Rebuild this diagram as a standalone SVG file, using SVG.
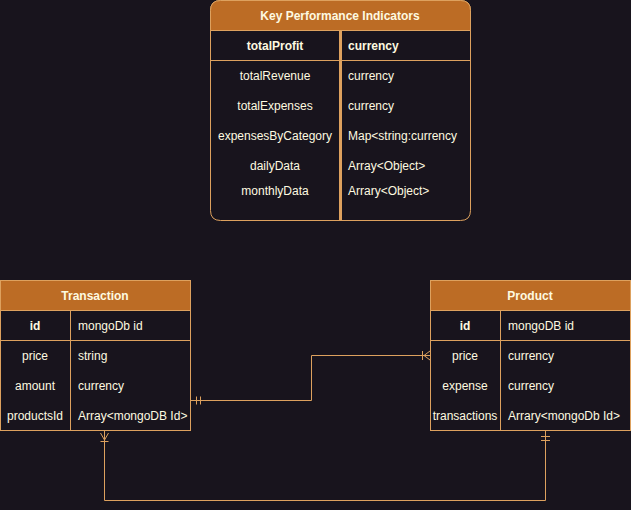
<svg xmlns="http://www.w3.org/2000/svg" width="631" height="510" viewBox="0 0 631 510">
<style>
.bg{fill:#18141d}
.box{fill:#18141d;stroke:#dda15e;stroke-width:1}
.hdr{fill:#bc6c25;stroke:#dda15e;stroke-width:1}
.ln{stroke:#dda15e;stroke-width:1;fill:none}
.t{font-family:"Liberation Sans",Arial,sans-serif;font-size:12px;fill:#fefae0;dominant-baseline:central}
.b{font-weight:bold}
.c{text-anchor:middle}
</style>
<rect class="bg" x="0" y="0" width="631" height="510"/>
<g id="kpi">
<path class="box" d="M220.5,0.5 H460.5 Q470.5,0.5 470.5,10.5 V210.5 Q470.5,220.5 460.5,220.5 H220.5 Q210.5,220.5 210.5,210.5 V10.5 Q210.5,0.5 220.5,0.5 Z"/>
<path class="hdr" d="M210.5,30.5 V10.5 Q210.5,0.5 220.5,0.5 H460.5 Q470.5,0.5 470.5,10.5 V30.5 Z"/>
<line class="ln" x1="210.5" y1="60.5" x2="470.5" y2="60.5"/>
<line x1="340.5" y1="30.5" x2="340.5" y2="220" stroke="#dda15e" stroke-width="3"/>
<text class="t b c" x="340" y="16">Key Performance Indicators</text>
<text class="t b c" x="275" y="46">totalProfit</text>
<text class="t b" x="348" y="46">currency</text>
<text class="t c" x="275" y="76">totalRevenue</text>
<text class="t" x="348" y="76">currency</text>
<text class="t c" x="275" y="106">totalExpenses</text>
<text class="t" x="348" y="106">currency</text>
<text class="t c" x="275" y="136">expensesByCategory</text>
<text class="t" x="348" y="136">Map&lt;string:currency</text>
<text class="t c" x="275" y="166">dailyData</text>
<text class="t" x="348" y="166">Array&lt;Object&gt;</text>
<text class="t c" x="275" y="191">monthlyData</text>
<text class="t" x="348" y="191">Arrary&lt;Object&gt;</text>
</g>
<g id="transaction">
<rect class="box" x="0.5" y="280.5" width="190" height="150"/>
<rect class="hdr" x="0.5" y="280.5" width="190" height="30"/>
<line class="ln" x1="0.5" y1="340.5" x2="190.5" y2="340.5"/>
<line class="ln" x1="70.5" y1="310.5" x2="70.5" y2="430.5"/>
<text class="t b c" x="95" y="296">Transaction</text>
<text class="t b c" x="35" y="326">id</text>
<text class="t" x="78" y="326">mongoDb id</text>
<text class="t c" x="35" y="356">price</text>
<text class="t" x="78" y="356">string</text>
<text class="t c" x="35" y="386">amount</text>
<text class="t" x="78" y="386">currency</text>
<text class="t c" x="35" y="416">productsId</text>
<text class="t" x="78" y="416">Array&lt;mongoDB Id&gt;</text>
</g>
<g id="product">
<rect class="box" x="430.5" y="280.5" width="200" height="150"/>
<rect class="hdr" x="430.5" y="280.5" width="200" height="30"/>
<line class="ln" x1="430.5" y1="340.5" x2="630.5" y2="340.5"/>
<line class="ln" x1="500.5" y1="310.5" x2="500.5" y2="430.5"/>
<text class="t b c" x="530" y="296">Product</text>
<text class="t b c" x="465" y="326">id</text>
<text class="t" x="508" y="326">mongoDB id</text>
<text class="t c" x="465" y="356">price</text>
<text class="t" x="508" y="356">currency</text>
<text class="t c" x="465" y="386">expense</text>
<text class="t" x="508" y="386">currency</text>
<text class="t c" x="465" y="416">transactions</text>
<text class="t" x="508" y="416">Arrary&lt;mongoDb Id&gt;</text>
</g>
<g id="connectors">
<path class="ln" d="M191,400.5 H311.5 V355.5 H430"/>
<path class="ln" d="M196.5,396.5 V404.5 M200.5,396.5 V404.5"/>
<path class="ln" d="M422.5,351 V360 M430,351 L424,355.5 L430,360"/>
<path class="ln" d="M104.5,431 V500.5 H545.5 V431"/>
<path class="ln" d="M100.5,433 L104.5,440 L108.5,433 M104.5,433 V440 M100.5,441.5 H108.5"/>
<path class="ln" d="M541,436.5 H550 M541,440.5 H550"/>
</g>
</svg>
